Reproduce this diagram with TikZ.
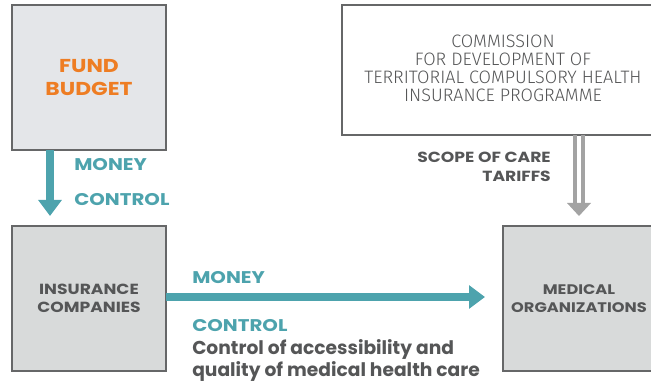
\documentclass[tikz,border=0pt]{standalone}
\usepackage{fontspec}
\setmainfont{Poppins}
\newfontfamily\widefont{Poppins}[FakeStretch=1.17]
\newfontfamily\thinfont{Fira Sans Light}
\usetikzlibrary{arrows.meta}

\definecolor{teal1}{HTML}{4DA3AD}
\definecolor{orange1}{HTML}{EE7D23}
\definecolor{text1}{HTML}{555657}
\definecolor{fill1}{HTML}{E4E6E9}
\definecolor{fill2}{HTML}{D8DADA}
\definecolor{arr1}{HTML}{A3A3A3}

\tikzset{
  box/.style={draw=text1!90, line width=0.9pt, inner sep=0pt, minimum width=115.5pt, minimum height=108.75pt, align=center},
  lbl/.style={font=\widefont\bfseries\fontsize{12.7}{14}\selectfont, text=teal1, anchor=west, inner sep=0pt},
  tarrow/.style={teal1, line width=6pt, -{Triangle[length=12pt, width=17pt]}},
}

\begin{document}
\begin{tikzpicture}[x=0.75pt, y=-0.75pt]
\useasboundingbox (0,0) rectangle (651,385);
\node[box, fill=fill1, font=\widefont\bfseries\fontsize{14}{17}\selectfont, text=orange1] (fund) at (89,77.5) {FUND\\BUDGET};
\node[box, fill=fill2, font=\widefont\bfseries\fontsize{11}{13.5}\selectfont, text=text1] (ins) at (89,298.5) {INSURANCE\\COMPANIES};
\node[box, fill=fill2, minimum width=114pt, font=\widefont\bfseries\fontsize{10.4}{13.5}\selectfont, text=text1] (med) at (579,298.5) {MEDICAL\\ORGANIZATIONS};
\node[box, fill=white, minimum width=241.5pt, minimum height=97.5pt, font=\thinfont\fontsize{13.5}{13.5}\selectfont, text=text1, text depth=3pt] (comm) at (503,70) {COMMISSION\\FOR DEVELOPMENT OF\\TERRITORIAL COMPULSORY HEALTH\\INSURANCE PROGRAMME};
\coordinate (fundout) at (50,150);
\coordinate (insin) at (50,216);
\coordinate (medtop) at (579,216);
\coordinate (medin) at (485,297);
\coordinate (insout) at (166,297);

\draw[tarrow] (fundout) -- (insin);
\node[lbl] (money1) at (74,165) {MONEY};
\node[lbl] (control1) at (74,200) {CONTROL};

\draw[tarrow] (insout) -- (medin);
\node[lbl] (money2) at (192,278) {MONEY};
\node[lbl] (control2) at (192,326) {CONTROL};
\node[anchor=north west, inner sep=0pt, align=left, text=text1, font=\bfseries\fontsize{14}{16.5}\selectfont] (ctrltext) at (192,339) {Control of accessibility and\\quality of medical health care};

\draw[arr1, line width=3pt] (575,135) -- (575,205) (583,135) -- (583,205);
\fill[arr1] (567,203) -- (591,203) -- (medtop) -- cycle;
\node[anchor=east, align=right, inner sep=0pt, text=text1, font=\widefont\bfseries\fontsize{11}{14}\selectfont] (scope) at (551,167) {SCOPE OF CARE\\TARIFFS};
\end{tikzpicture}
\end{document}
